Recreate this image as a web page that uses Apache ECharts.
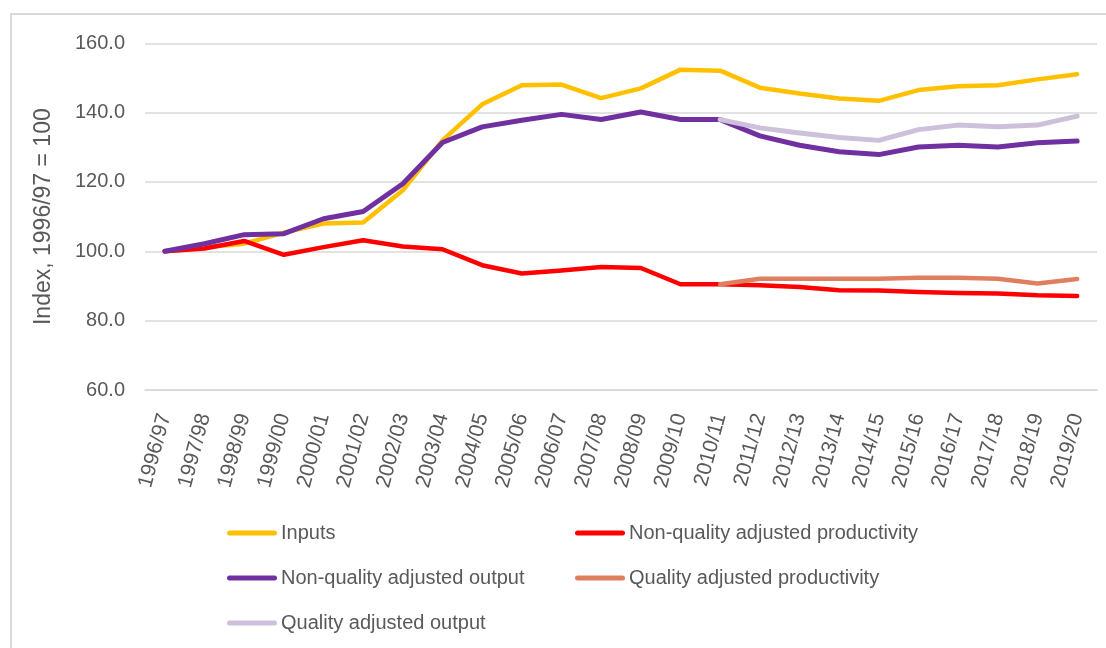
<!DOCTYPE html>
<html>
<head>
<meta charset="utf-8">
<style>
  html, body { margin: 0; padding: 0; background: #ffffff; }
  #chart { width: 1106px; height: 648px; }
</style>
<script src="https://cdn.jsdelivr.net/npm/echarts@6/dist/echarts.min.js"></script>
</head>
<body>
<div id="chart"></div>
<script>
// Financial years on the category axis
const years = ['1996/97', '1997/98', '1998/99', '1999/00', '2000/01', '2001/02', '2002/03', '2003/04',
  '2004/05', '2005/06', '2006/07', '2007/08', '2008/09', '2009/10', '2010/11', '2011/12', '2012/13',
  '2013/14', '2014/15', '2015/16', '2016/17', '2017/18', '2018/19', '2019/20'];

// Index values, 1996/97 = 100
const inputs = [100.0, 101.2, 102.2, 105.4, 108.0, 108.3, 117.6, 132.0, 142.4, 147.9, 148.1, 144.2,
  147.0, 152.4, 152.1, 147.2, 145.5, 144.1, 143.4, 146.5, 147.6, 147.9, 149.6, 151.1];
const nonQualityProductivity = [100.0, 100.8, 103.0, 99.0, 101.2, 103.2, 101.4, 100.6, 96.0, 93.6,
  94.5, 95.5, 95.2, 90.5, 90.5, 90.2, 89.7, 88.8, 88.7, 88.3, 88.0, 87.8, 87.3, 87.1];
const nonQualityOutput = [100.0, 102.2, 104.8, 105.1, 109.4, 111.5, 119.5, 131.4, 135.9, 137.8,
  139.5, 138.0, 140.2, 138.0, 138.0, 133.3, 130.6, 128.7, 127.9, 130.1, 130.6, 130.1, 131.3, 131.8];
// Quality adjusted series only exist from 2010/11 onwards
const qualityProductivity = [null, null, null, null, null, null, null, null, null, null, null, null,
  null, null, 90.5, 92.1, 92.1, 92.1, 92.1, 92.4, 92.4, 92.1, 90.7, 92.0];
const qualityOutput = [null, null, null, null, null, null, null, null, null, null, null, null,
  null, null, 138.0, 135.6, 134.1, 132.8, 132.0, 135.1, 136.4, 135.9, 136.4, 139.0];

// Y axis ticks
const yMin = 60, yMax = 160, yStep = 20;

const FONT = "'Liberation Sans', Arial, sans-serif";
const TEXT = '#595959';
const GRID = '#d9d9d9';

const seriesDefs = [
  { name: 'Inputs', data: inputs, color: '#FFC000', width: 4.5 },
  { name: 'Non-quality adjusted productivity', data: nonQualityProductivity, color: '#FF0000', width: 4.5 },
  { name: 'Non-quality adjusted output', data: nonQualityOutput, color: '#7030A0', width: 5 },
  { name: 'Quality adjusted productivity', data: qualityProductivity, color: '#E07F5F', width: 4.5 },
  { name: 'Quality adjusted output', data: qualityOutput, color: '#CCC0DA', width: 5 }
];

// Legend laid out as two columns, three rows
const legendPos = [
  { left: 222, top: 518 },
  { left: 570, top: 518 },
  { left: 222, top: 563 },
  { left: 570, top: 563 },
  { left: 222, top: 608 }
];
const lineIcon = 'path://M2.5,0 H47.5 A2.5,2.5 0 0 1 47.5,5 H2.5 A2.5,2.5 0 0 1 2.5,0 Z';

const chart = echarts.init(document.getElementById('chart'), null, { renderer: 'canvas' });

chart.setOption({
  animation: false,
  backgroundColor: '#ffffff',
  textStyle: { fontFamily: FONT },
  graphic: [{
    type: 'rect',
    shape: { x: 11, y: 14, width: 1300, height: 900 },
    style: { fill: 'none', stroke: GRID, lineWidth: 2 },
    silent: true
  }],
  grid: { left: 145, right: 9, top: 43.3, bottom: 258 },
  legend: seriesDefs.map((s, i) => ({
    data: [s.name],
    left: legendPos[i].left,
    top: legendPos[i].top,
    icon: lineIcon,
    itemWidth: 50,
    itemHeight: 5,
    itemGap: 4,
    selectedMode: false,
    textStyle: { color: TEXT, fontSize: 20, fontFamily: FONT, padding: [0, 0, 0, -1] }
  })),
  xAxis: {
    type: 'category',
    data: years,
    boundaryGap: true,
    axisLine: { show: true, lineStyle: { color: GRID, width: 1.5 } },
    axisTick: { show: false },
    axisLabel: {
      interval: 0,
      rotate: 75,
      margin: 24,
      color: TEXT,
      fontSize: 21,
      fontFamily: FONT
    }
  },
  yAxis: {
    type: 'value',
    min: yMin,
    max: yMax,
    interval: yStep,
    name: 'Index, 1996/97 = 100',
    nameLocation: 'middle',
    nameGap: 90,
    nameRotate: 90,
    nameTextStyle: { color: TEXT, fontSize: 23, fontFamily: FONT },
    axisLine: { show: false },
    axisTick: { show: false },
    axisLabel: {
      margin: 20,
      color: TEXT,
      fontSize: 20,
      fontFamily: FONT,
      formatter: v => v.toFixed(1)
    },
    splitLine: { show: true, lineStyle: { color: GRID, width: 1.5 } }
  },
  series: seriesDefs.map(s => ({
    name: s.name,
    type: 'line',
    data: s.data,
    symbol: 'none',
    connectNulls: false,
    color: s.color,
    lineStyle: { color: s.color, width: s.width, cap: 'round', join: 'round' },
    itemStyle: { color: s.color }
  }))
});
</script>
</body>
</html>
